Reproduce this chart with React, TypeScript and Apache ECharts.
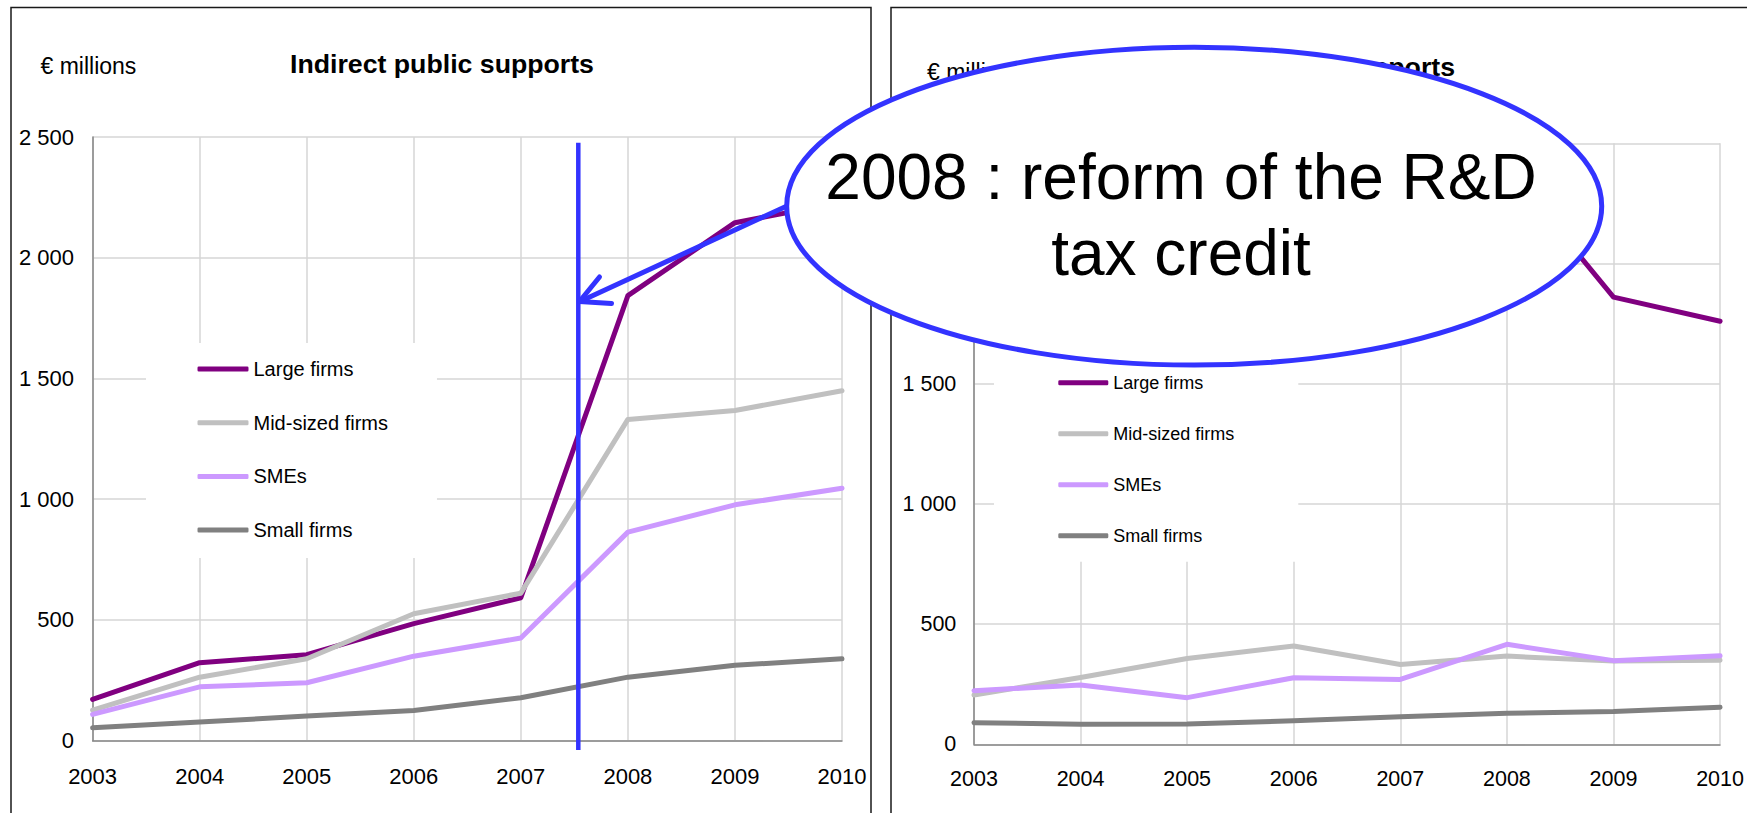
import React, { useEffect, useRef } from "react";
import * as echarts from "echarts";

const years = ["2003", "2004", "2005", "2006", "2007", "2008", "2009", "2010"];
const seriesNames = ["Large firms", "Mid-sized firms", "SMEs", "Small firms"];
const seriesColors = ["#800080", "#c0c0c0", "#cc99ff", "#808080"];

// Left panel: Indirect public supports (€ millions)
const indirectLarge = [170, 322, 355, 484, 591, 1843, 2145, 2230];
const indirectMid = [125, 262, 338, 525, 610, 1330, 1367, 1449];
const indirectSME = [108, 222, 239, 349, 424, 863, 976, 1045];
const indirectSmall = [52, 76, 101, 124, 177, 262, 311, 338];

// Right panel: Direct public supports (€ millions)
const directLarge = [1900, 2000, 2050, 2150, 2250, 2400, 1860, 1760];
const directMid = [205, 278, 357, 409, 332, 367, 346, 350];
const directSME = [223, 247, 194, 277, 270, 416, 348, 368];
const directSmall = [90, 83, 84, 98, 115, 129, 136, 154];

const yTicks = { min: 0, max: 2500, interval: 500 };

const leftTitle = "Indirect public supports";
const rightTitle = "Direct public supports";
const unitLabel = "€ millions";
const noteLine1 = "2008 : reform of the R&D";
const noteLine2 = "tax credit";

const FONT = "'Liberation Sans', Arial, Helvetica, sans-serif";

function fmt(v: number): string {
  if (v >= 1000) {
    const th = Math.floor(v / 1000);
    const rest = String(v % 1000).padStart(3, "0");
    return `${th} ${rest}`;
  }
  return String(v);
}

export default function App() {
  const ref = useRef<HTMLDivElement>(null);

  useEffect(() => {
    document.body.style.margin = "0";
    if (!ref.current) return;
    const chart = echarts.init(ref.current, undefined, { renderer: "svg" });

    const axisLineStyle = { color: "#868686", width: 1.5 };
    const splitLineStyle = { color: "#d6d6d6", width: 1.5 };

    const mkX = (gi: number, fs: number, margin: number) => ({
      gridIndex: gi,
      type: "category",
      data: years,
      boundaryGap: false,
      axisLine: { show: true, lineStyle: axisLineStyle },
      axisTick: { show: false },
      axisLabel: { fontSize: fs, color: "#000", margin, fontFamily: FONT },
      splitLine: { show: true, lineStyle: splitLineStyle },
    });
    const mkY = (gi: number, fs: number, margin: number) => ({
      gridIndex: gi,
      type: "value",
      min: yTicks.min,
      max: yTicks.max,
      interval: yTicks.interval,
      axisLine: { show: true, lineStyle: axisLineStyle },
      axisTick: { show: false },
      axisLabel: {
        fontSize: fs,
        color: "#000",
        margin,
        fontFamily: FONT,
        formatter: (v: number) => fmt(v),
      },
      splitLine: { show: true, lineStyle: splitLineStyle },
    });

    const leftData = [indirectLarge, indirectMid, indirectSME, indirectSmall];
    const rightData = [directLarge, directMid, directSME, directSmall];

    const series: any[] = [];
    [leftData, rightData].forEach((set, gi) => {
      set.forEach((d, i) => {
        series.push({
          type: "line",
          name: seriesNames[i],
          xAxisIndex: gi,
          yAxisIndex: gi,
          data: d,
          symbol: "none",
          showSymbol: false,
          z: 2 + i,
          lineStyle: { width: 5, color: seriesColors[i], cap: "round", join: "round" },
          itemStyle: { color: seriesColors[i] },
        });
      });
    });

    const mkLegend = (
      left: number,
      top: number,
      padding: number[],
      fs: number,
      gap: number,
      iw: number
    ) => ({
      orient: "vertical",
      left,
      top,
      padding,
      data: seriesNames,
      itemGap: gap,
      itemWidth: iw,
      itemHeight: 5,
      icon: "roundRect",
      selectedMode: false,
      backgroundColor: "#ffffff",
      textStyle: { fontSize: fs, color: "#000", lineHeight: fs, fontFamily: FONT },
    });

    const blue = "#3333ff";

    const option: any = {
      animation: false,
      color: seriesColors,
      grid: [
        { left: 92.6, top: 137, width: 749.4, height: 603.4 },
        { left: 974, top: 143.3, width: 749.2, height: 601 },
      ],
      xAxis: [mkX(0, 22, 25), mkX(1, 21.5, 24)],
      yAxis: [mkY(0, 22, 18.6), mkY(1, 21.5, 17.7)],
      legend: [
        mkLegend(146, 343, [16, 49, 18, 51.5], 20, 33.7, 51),
        mkLegend(994, 357, [16.7, 64, 17, 64.3], 18, 33, 50),
      ],
      series,
      graphic: [
        {
          type: "rect",
          z: 1,
          shape: { x: 11, y: 7.5, width: 860, height: 900 },
          style: { fill: "transparent", stroke: "#1a1a1a", lineWidth: 1.5 },
        },
        {
          type: "rect",
          z: 1,
          shape: { x: 891, y: 7.5, width: 1000, height: 900 },
          style: { fill: "transparent", stroke: "#1a1a1a", lineWidth: 1.5 },
        },
        {
          type: "text",
          x: 40.5,
          y: 66.2,
          style: { text: unitLabel, font: `23px ${FONT}`, fill: "#000", align: "left", verticalAlign: "middle" },
        },
        {
          type: "text",
          x: 290,
          y: 63.5,
          style: { text: leftTitle, font: `bold 26.7px ${FONT}`, fill: "#000", align: "left", verticalAlign: "middle" },
        },
        {
          type: "text",
          x: 927,
          y: 72,
          style: { text: unitLabel, font: `23px ${FONT}`, fill: "#000", align: "left", verticalAlign: "middle" },
        },
        {
          type: "text",
          x: 1455,
          y: 67,
          style: { text: rightTitle, font: `bold 26.7px ${FONT}`, fill: "#000", align: "right", verticalAlign: "middle" },
        },
        {
          type: "line",
          z: 90,
          shape: { x1: 578.3, y1: 142.7, x2: 578.3, y2: 750 },
          style: { stroke: blue, lineWidth: 4.5 },
        },
        {
          type: "line",
          z: 90,
          shape: { x1: 787, y1: 206, x2: 580, y2: 301.5 },
          style: { stroke: blue, lineWidth: 5, lineCap: "round" },
        },
        {
          type: "polyline",
          z: 90,
          shape: { points: [[599.5, 277], [579.5, 301.5], [611.5, 303.5]] },
          style: { stroke: blue, lineWidth: 5, fill: null, lineCap: "round", lineJoin: "round" },
        },
        {
          type: "ellipse",
          z: 100,
          shape: { cx: 1194.2, cy: 206.2, rx: 407.5, ry: 158.9 },
          style: { fill: "#ffffff", stroke: blue, lineWidth: 5 },
        },
        {
          type: "text",
          z: 101,
          x: 1181,
          y: 176.5,
          style: { text: noteLine1, font: `64px ${FONT}`, fill: "#000", align: "center", verticalAlign: "middle" },
        },
        {
          type: "text",
          z: 101,
          x: 1181,
          y: 253.2,
          style: { text: noteLine2, font: `64px ${FONT}`, fill: "#000", align: "center", verticalAlign: "middle" },
        },
      ],
    };

    chart.setOption(option);
    return () => chart.dispose();
  }, []);

  return (
    <div
      ref={ref}
      style={{ position: "absolute", left: 0, top: 0, width: 1747, height: 813, background: "#fff" }}
    />
  );
}
